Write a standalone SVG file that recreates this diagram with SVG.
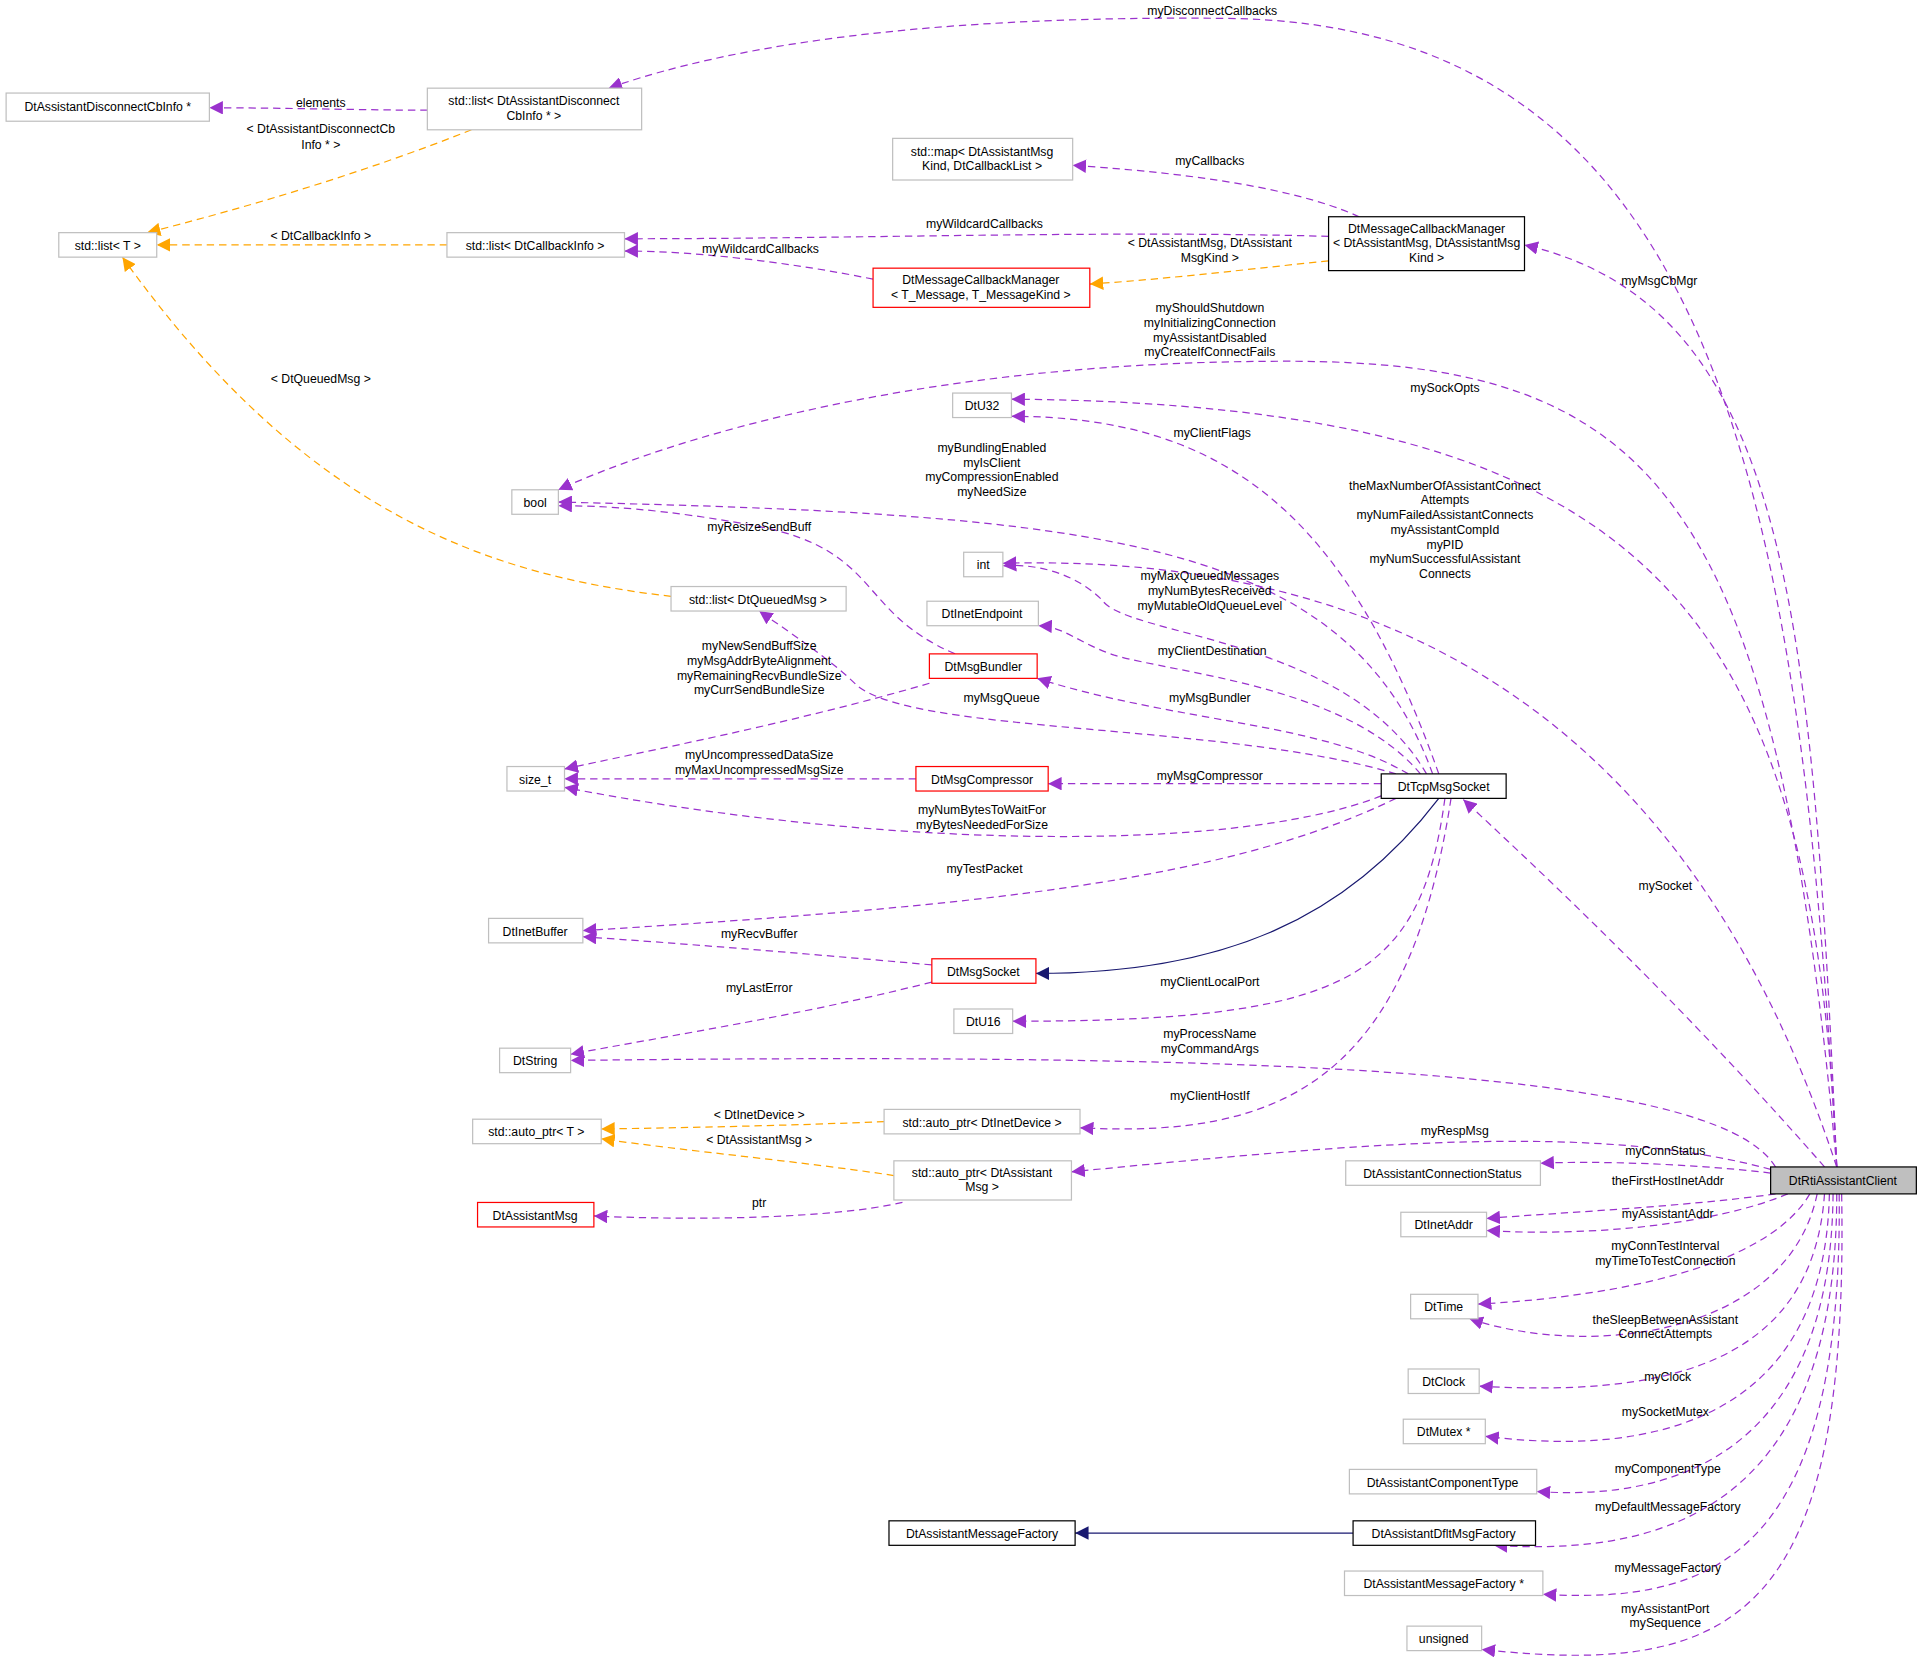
<svg xmlns="http://www.w3.org/2000/svg" width="1920" height="1679" viewBox="0 0 1920 1679">
<defs>
<marker id="ap" viewBox="0 0 10 10" refX="10" refY="5" markerWidth="11" markerHeight="11" markerUnits="userSpaceOnUse" orient="auto"><path d="M0,0L10,5L0,10z" fill="#9a32cd"/></marker>
<marker id="ao" viewBox="0 0 10 10" refX="10" refY="5" markerWidth="11" markerHeight="11" markerUnits="userSpaceOnUse" orient="auto"><path d="M0,0L10,5L0,10z" fill="#ffa500"/></marker>
<marker id="an" viewBox="0 0 10 10" refX="10" refY="5" markerWidth="11" markerHeight="11" markerUnits="userSpaceOnUse" orient="auto"><path d="M0,0L10,5L0,10z" fill="#191970"/></marker>
</defs>
<style>
text{font-family:"Liberation Sans",Arial,sans-serif;font-size:10px;fill:#000;text-anchor:middle}
.n rect{fill:#fff;stroke:#bfbfbf;stroke-width:1}
.b rect{stroke:#000}
.r rect{stroke:#ff0000}
.p{fill:none;stroke:#9a32cd;stroke-dasharray:6,4;marker-end:url(#ap)}
.o{fill:none;stroke:#ffa500;stroke-dasharray:6,4;marker-end:url(#ao)}
.i{fill:none;stroke:#191970;marker-end:url(#an)}
</style>
<rect width="1920" height="1679" fill="#fff"/>
<g transform="scale(1.2245)">
<g id="connectors">
<path class="p" d="M1500,953 C1470,400 1400,18 1000,15 C700,12 560,50 497,72"/><text x="990" y="12">myDisconnectCallbacks</text>
<path class="p" d="M1500,953 C1480,500 1460,250 1245,200"/><text x="1355" y="233">myMsgCbMgr</text>
<path class="p" d="M1500,953 C1450,400 1350,295 1050,295 C700,295 500,380 456,400"/><text x="988" y="255">myShouldShutdown</text><text x="988" y="267">myInitializingConnection</text><text x="988" y="279">myAssistantDisabled</text><text x="988" y="291">myCreateIfConnectFails</text>
<path class="p" d="M1500,953 C1480,500 1350,330 826,326"/><text x="1180" y="320">mySockOpts</text>
<path class="p" d="M1500,953 C1400,650 1200,450 819,460"/><text x="1180" y="400">theMaxNumberOfAssistantConnect</text><text x="1180" y="412">Attempts</text><text x="1180" y="424">myNumFailedAssistantConnects</text><text x="1180" y="436">myAssistantCompId</text><text x="1180" y="448">myPID</text><text x="1180" y="460">myNumSuccessfulAssistant</text><text x="1180" y="472">Connects</text>
<path class="p" d="M1490,953 C1400,850 1300,750 1195,653"/><text x="1360" y="727">mySocket</text>
<path class="p" d="M1450,953 C1400,870 1000,860 466,866"/><text x="988" y="848">myProcessName</text><text x="988" y="860">myCommandArgs</text>
<path class="p" d="M1446,955 C1300,915 1100,935 875,957"/><text x="1188" y="927">myRespMsg</text>
<path class="p" d="M1446,958 C1380,950 1300,948 1258,950"/><text x="1360" y="943">myConnStatus</text>
<path class="p" d="M1450,975 C1380,985 1280,990 1214,995"/><text x="1362" y="968">theFirstHostInetAddr</text>
<path class="p" d="M1460,975 C1400,1000 1300,1010 1214,1005"/><text x="1362" y="995">myAssistantAddr</text>
<path class="p" d="M1478,975 C1440,1040 1300,1060 1207,1065"/><text x="1360" y="1021">myConnTestInterval</text><text x="1360" y="1033">myTimeToTestConnection</text>
<path class="p" d="M1484,975 C1460,1090 1300,1110 1200,1077"/><text x="1360" y="1081">theSleepBetweenAssistant</text><text x="1360" y="1093">ConnectAttempts</text>
<path class="p" d="M1490,975 C1480,1120 1350,1140 1208,1132"/><text x="1362" y="1128">myClock</text>
<path class="p" d="M1494,975 C1490,1160 1350,1190 1213,1173"/><text x="1360" y="1156">mySocketMutex</text>
<path class="p" d="M1497,975 C1495,1200 1350,1225 1255,1218"/><text x="1362" y="1203">myComponentType</text>
<path class="p" d="M1500,975 C1500,1240 1350,1270 1220,1262"/><text x="1362" y="1234">myDefaultMessageFactory</text>
<path class="p" d="M1502,975 C1505,1270 1400,1310 1260,1302"/><text x="1362" y="1284">myMessageFactory</text>
<path class="p" d="M1504,975 C1510,1320 1420,1370 1210,1347"/><text x="1360" y="1317">myAssistantPort</text><text x="1360" y="1329">mySequence</text>
<path class="p" d="M1175,632 C1100,420 1000,340 826,340"/><text x="990" y="357">myClientFlags</text>
<path class="p" d="M1170,632 C1100,440 900,420 456,410"/><text x="810" y="369">myBundlingEnabled</text><text x="810" y="381">myIsClient</text><text x="810" y="393">myCompressionEnabled</text><text x="810" y="405">myNeedSize</text>
<path class="p" d="M1165,632 C1100,520 920,520 900,490 C880,470 850,460 819,462"/><text x="988" y="474">myMaxQueuedMessages</text><text x="988" y="486">myNumBytesReceived</text><text x="988" y="498">myMutableOldQueueLevel</text>
<path class="p" d="M1160,632 C1100,560 960,550 910,535 C880,525 870,512 848,511"/><text x="990" y="535">myClientDestination</text>
<path class="p" d="M1150,632 C1080,590 960,590 847,554"/><text x="988" y="573">myMsgBundler</text>
<path class="p" d="M1140,632 C1000,590 750,600 700,560 C680,540 650,520 620,499"/><text x="818" y="573">myMsgQueue</text>
<path class="p" d="M1128,640 C1030,640 950,640 856,640"/><text x="988" y="637">myMsgCompressor</text>
<path class="p" d="M1128,650 C1000,700 700,690 461,643"/><text x="802" y="665">myNumBytesToWaitFor</text><text x="802" y="677">myBytesNeededForSize</text>
<path class="p" d="M1140,652 C1000,720 800,740 476,760"/><text x="804" y="713">myTestPacket</text>
<path class="i" d="M1175,652 C1100,750 1000,795 846,795"/>
<path class="p" d="M1180,652 C1160,800 1100,834 827,834"/><text x="988" y="805">myClientLocalPort</text>
<path class="p" d="M1185,652 C1150,880 1050,930 882,921"/><text x="988" y="898">myClientHostIf</text>
<path class="p" d="M349,90 C300,90 230,88 171,88"/><text x="262" y="87">elements</text>
<path class="o" d="M385,106 C300,140 200,170 120,190"/><text x="262" y="109">&lt; DtAssistantDisconnectCb</text><text x="262" y="122">Info * &gt;</text>
<path class="o" d="M365,200 C300,200 200,200 128,200"/><text x="262" y="196">&lt; DtCallbackInfo &gt;</text>
<path class="o" d="M548,487 C400,470 250,420 100,210"/><text x="262" y="313">&lt; DtQueuedMsg &gt;</text>
<path class="p" d="M1110,177 C1050,150 950,140 876,135"/><text x="988" y="135">myCallbacks</text>
<path class="p" d="M1085,193 C900,188 700,195 510,195"/><text x="804" y="186">myWildcardCallbacks</text>
<path class="p" d="M713,228 C650,215 570,205 510,205"/><text x="621" y="207">myWildcardCallbacks</text>
<path class="o" d="M1085,213 C1000,222 950,228 890,232"/><text x="988" y="202">&lt; DtAssistantMsg, DtAssistant</text><text x="988" y="214">MsgKind &gt;</text>
<path class="p" d="M780,534 C700,500 720,450 620,430 C540,415 490,413 456,413"/><text x="620" y="434">myResizeSendBuff</text>
<path class="p" d="M759,558 C650,590 520,615 461,628"/><text x="620" y="531">myNewSendBuffSize</text><text x="620" y="543">myMsgAddrByteAlignment</text><text x="620" y="555">myRemainingRecvBundleSize</text><text x="620" y="567">myCurrSendBundleSize</text>
<path class="p" d="M748,636 C650,636 540,636 461,636"/><text x="620" y="620">myUncompressedDataSize</text><text x="620" y="632">myMaxUncompressedMsgSize</text>
<path class="p" d="M761,788 C650,778 550,770 476,765"/><text x="620" y="766">myRecvBuffer</text>
<path class="p" d="M761,802 C650,830 550,845 466,861"/><text x="620" y="810">myLastError</text>
<path class="o" d="M722,916 C650,919 560,921 491,922"/><text x="620" y="914">&lt; DtInetDevice &gt;</text>
<path class="o" d="M730,960 C650,948 560,940 491,930"/><text x="620" y="934">&lt; DtAssistantMsg &gt;</text>
<path class="p" d="M737,982 C680,995 570,997 485,993"/><text x="620" y="986">ptr</text>
<path class="i" d="M1105,1252 C1000,1252 950,1252 878,1252"/>
</g>
<g id="n1" class="n"><rect x="5" y="76" width="166" height="23"/><text x="88" y="91">DtAssistantDisconnectCbInfo *</text></g>
<g id="n2" class="n"><rect x="349" y="72" width="175" height="34"/><text x="436" y="86">std::list&lt; DtAssistantDisconnect</text><text x="436" y="98">CbInfo * &gt;</text></g>
<g id="n3" class="n"><rect x="48" y="190" width="80" height="20"/><text x="88" y="204">std::list&lt; T &gt;</text></g>
<g id="n4" class="n"><rect x="365" y="190" width="145" height="20"/><text x="437" y="204">std::list&lt; DtCallbackInfo &gt;</text></g>
<g id="n5" class="n"><rect x="729" y="113" width="147" height="34"/><text x="802" y="127">std::map&lt; DtAssistantMsg</text><text x="802" y="139">Kind, DtCallbackList &gt;</text></g>
<g id="n6" class="n b"><rect x="1085" y="177" width="160" height="44"/><text x="1165" y="190">DtMessageCallbackManager</text><text x="1165" y="202">&lt; DtAssistantMsg, DtAssistantMsg</text><text x="1165" y="214">Kind &gt;</text></g>
<g id="n7" class="n r"><rect x="713" y="219" width="177" height="32"/><text x="801" y="232">DtMessageCallbackManager</text><text x="801" y="244">&lt; T_Message, T_MessageKind &gt;</text></g>
<g id="n8" class="n"><rect x="778" y="321" width="48" height="20"/><text x="802" y="335">DtU32</text></g>
<g id="n9" class="n"><rect x="418" y="400" width="38" height="20"/><text x="437" y="414">bool</text></g>
<g id="n10" class="n"><rect x="787" y="451" width="32" height="20"/><text x="803" y="465">int</text></g>
<g id="n11" class="n"><rect x="548" y="479" width="143" height="20"/><text x="619" y="493">std::list&lt; DtQueuedMsg &gt;</text></g>
<g id="n12" class="n"><rect x="757" y="491" width="91" height="20"/><text x="802" y="505">DtInetEndpoint</text></g>
<g id="n13" class="n r"><rect x="759" y="534" width="88" height="20"/><text x="803" y="548">DtMsgBundler</text></g>
<g id="n14" class="n"><rect x="414" y="626" width="47" height="20"/><text x="437" y="640">size_t</text></g>
<g id="n15" class="n r"><rect x="748" y="626" width="108" height="20"/><text x="802" y="640">DtMsgCompressor</text></g>
<g id="n16" class="n b"><rect x="1128" y="632" width="102" height="20"/><text x="1179" y="646">DtTcpMsgSocket</text></g>
<g id="n17" class="n"><rect x="399" y="750" width="77" height="20"/><text x="437" y="764">DtInetBuffer</text></g>
<g id="n18" class="n r"><rect x="761" y="783" width="85" height="20"/><text x="803" y="797">DtMsgSocket</text></g>
<g id="n19" class="n"><rect x="779" y="824" width="48" height="20"/><text x="803" y="838">DtU16</text></g>
<g id="n20" class="n"><rect x="408" y="856" width="58" height="20"/><text x="437" y="870">DtString</text></g>
<g id="n21" class="n"><rect x="386" y="914" width="105" height="20"/><text x="438" y="928">std::auto_ptr&lt; T &gt;</text></g>
<g id="n22" class="n"><rect x="722" y="906" width="160" height="20"/><text x="802" y="920">std::auto_ptr&lt; DtInetDevice &gt;</text></g>
<g id="n23" class="n"><rect x="730" y="948" width="145" height="32"/><text x="802" y="961">std::auto_ptr&lt; DtAssistant</text><text x="802" y="973">Msg &gt;</text></g>
<g id="n24" class="n r"><rect x="390" y="982" width="95" height="20"/><text x="437" y="996">DtAssistantMsg</text></g>
<g id="n25" class="n"><rect x="1099" y="948" width="159" height="20"/><text x="1178" y="962">DtAssistantConnectionStatus</text></g>
<g id="n26" class="n"><rect x="1144" y="990" width="70" height="20"/><text x="1179" y="1004">DtInetAddr</text></g>
<g id="n27" class="n"><rect x="1152" y="1057" width="55" height="20"/><text x="1179" y="1071">DtTime</text></g>
<g id="n28" class="n"><rect x="1150" y="1118" width="58" height="20"/><text x="1179" y="1132">DtClock</text></g>
<g id="n29" class="n"><rect x="1146" y="1159" width="67" height="20"/><text x="1179" y="1173">DtMutex *</text></g>
<g id="n30" class="n"><rect x="1102" y="1200" width="153" height="20"/><text x="1178" y="1214">DtAssistantComponentType</text></g>
<g id="n31" class="n b"><rect x="726" y="1242" width="152" height="20"/><text x="802" y="1256">DtAssistantMessageFactory</text></g>
<g id="n32" class="n b"><rect x="1105" y="1242" width="149" height="20"/><text x="1179" y="1256">DtAssistantDfltMsgFactory</text></g>
<g id="n33" class="n"><rect x="1098" y="1283" width="162" height="20"/><text x="1179" y="1297">DtAssistantMessageFactory *</text></g>
<g id="n34" class="n"><rect x="1149" y="1328" width="61" height="20"/><text x="1179" y="1342">unsigned</text></g>
<g id="n35" class="n b"><rect x="1446" y="953" width="119" height="22" style="fill:#bfbfbf"/><text x="1505" y="968">DtRtiAssistantClient</text></g>
</g>
</svg>
